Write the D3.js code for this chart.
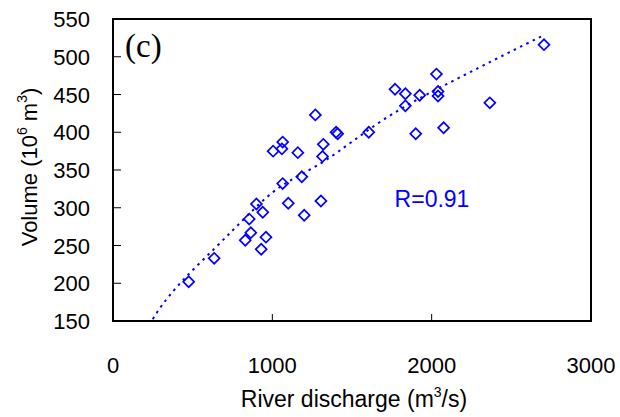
<!DOCTYPE html>
<html>
<head>
<meta charset="utf-8">
<script src="https://cdn.jsdelivr.net/npm/d3@7"></script>
<style>
  body { margin: 0; background: #fff; }
  svg { display: block; }
  .tick-label { font-family: "Liberation Sans", Arial, sans-serif; font-size: 22px; fill: #000; }
  .axis-title { font-family: "Liberation Sans", Arial, sans-serif; fill: #000; }
</style>
</head>
<body>
<script>
// Chart size and plot frame
const width = 620;
const height = 417;
const margin = { top: 19, right: 29, bottom: 96, left: 113 };

// Scatter data: river discharge (m3/s) and volume (10^6 m3)
const discharge = [475, 635, 830, 865, 960, 930, 855, 900, 940, 1065, 1100, 1200, 1305,
    1270, 1400, 1410, 1065, 1005, 1060, 1160, 1320, 1315, 1605, 1185,
    2705, 2030, 1770, 1835, 1925, 2040, 2040, 1835, 2365, 1900, 2075];
const volume = [202, 233, 257, 267, 261, 245, 285, 305, 294, 332, 306, 290, 309,
    423, 400, 398, 387, 375, 378, 373, 384, 368, 400, 341,
    516, 477, 457, 451, 449, 454, 448, 435, 439, 398, 406];

// Trend line
const trendX = [240, 257, 400, 637, 850, 1065, 1335, 1700, 2106, 2460, 2690];
const trendY = [144, 155, 195, 246, 291, 330, 363, 417, 465, 503, 527];

// Axis ticks
const xTicks = [0, 1000, 2000, 3000];
const yTicks = [150, 200, 250, 300, 350, 400, 450, 500, 550];

const blue = "#0000ff";

const svg = d3.select("body")
    .append("svg")
    .attr("width", width)
    .attr("height", height);

const xScale = d3.scaleLinear()
    .domain([0, 3000])
    .range([margin.left, width - margin.right]);

const yScale = d3.scaleLinear()
    .domain([150, 550])
    .range([height - margin.bottom, margin.top]);

const plotW = width - margin.left - margin.right;
const plotH = height - margin.top - margin.bottom;

svg.append("clipPath")
    .attr("id", "plot-clip")
    .append("rect")
    .attr("x", margin.left)
    .attr("y", margin.top)
    .attr("width", plotW)
    .attr("height", plotH);

// Inside ticks on x axis
svg.append("g")
    .selectAll("line")
    .data(xTicks.slice(1, -1))
    .join("line")
    .attr("x1", d => xScale(d))
    .attr("x2", d => xScale(d))
    .attr("y1", height - margin.bottom)
    .attr("y2", height - margin.bottom - 7)
    .attr("stroke", "#000")
    .attr("stroke-width", 1);

// Inside ticks on y axis
svg.append("g")
    .selectAll("line")
    .data(yTicks.slice(1, -1))
    .join("line")
    .attr("x1", margin.left)
    .attr("x2", margin.left + 8)
    .attr("y1", d => yScale(d))
    .attr("y2", d => yScale(d))
    .attr("stroke", "#000")
    .attr("stroke-width", 1);

// Plot frame
svg.append("rect")
    .attr("x", margin.left)
    .attr("y", margin.top)
    .attr("width", plotW)
    .attr("height", plotH)
    .attr("fill", "none")
    .attr("stroke", "#000")
    .attr("stroke-width", 2);

// Tick labels
svg.append("g")
    .selectAll("text")
    .data(xTicks)
    .join("text")
    .attr("class", "tick-label")
    .attr("x", d => xScale(d))
    .attr("y", 373)
    .attr("text-anchor", "middle")
    .text(d => d);

svg.append("g")
    .selectAll("text")
    .data(yTicks)
    .join("text")
    .attr("class", "tick-label")
    .attr("x", 90)
    .attr("y", d => yScale(d) + 8)
    .attr("text-anchor", "end")
    .text(d => d);

// Axis titles
const xTitle = svg.append("text")
    .attr("class", "axis-title")
    .attr("font-size", 23)
    .attr("x", 354)
    .attr("y", 407)
    .attr("text-anchor", "middle");
xTitle.append("tspan").text("River discharge (m");
xTitle.append("tspan").attr("dy", -10).attr("font-size", 14).text("3");
xTitle.append("tspan").attr("dy", 10).text("/s)");

const yTitle = svg.append("text")
    .attr("class", "axis-title")
    .attr("font-size", 22)
    .attr("transform", "translate(37, 167) rotate(-90)")
    .attr("text-anchor", "middle");
yTitle.append("tspan").text("Volume (10");
yTitle.append("tspan").attr("dy", -10).attr("font-size", 14).text("6");
yTitle.append("tspan").attr("dy", 10).text(" m");
yTitle.append("tspan").attr("dy", -10).attr("font-size", 14).text("3");
yTitle.append("tspan").attr("dy", 10).text(")");

// Dotted trend line
const trendLine = d3.line()
    .x(d => xScale(d[0]))
    .y(d => yScale(d[1]))
    .curve(d3.curveNatural);

svg.append("path")
    .datum(d3.zip(trendX, trendY))
    .attr("clip-path", "url(#plot-clip)")
    .attr("d", trendLine)
    .attr("fill", "none")
    .attr("stroke", blue)
    .attr("stroke-width", 2)
    .attr("stroke-dasharray", "2.5,4.5");

// Diamond markers
const diamond = d3.symbol().type(d3.symbolSquare).size(60);

svg.append("g")
    .selectAll("path")
    .data(d3.zip(discharge, volume))
    .join("path")
    .attr("d", diamond)
    .attr("transform", d => `translate(${xScale(d[0])}, ${yScale(d[1])}) rotate(45)`)
    .attr("fill", "none")
    .attr("stroke", blue)
    .attr("stroke-width", 1.7);

// Correlation label
svg.append("text")
    .attr("x", 432)
    .attr("y", 207)
    .attr("text-anchor", "middle")
    .attr("font-family", "Liberation Sans, Arial, sans-serif")
    .attr("font-size", 23)
    .attr("fill", blue)
    .text("R=0.91");

// Panel label
svg.append("text")
    .attr("x", 125)
    .attr("y", 57)
    .attr("font-family", "Liberation Serif, Times New Roman, serif")
    .attr("font-size", 33)
    .attr("fill", "#000")
    .text("(c)");
</script>
</body>
</html>
